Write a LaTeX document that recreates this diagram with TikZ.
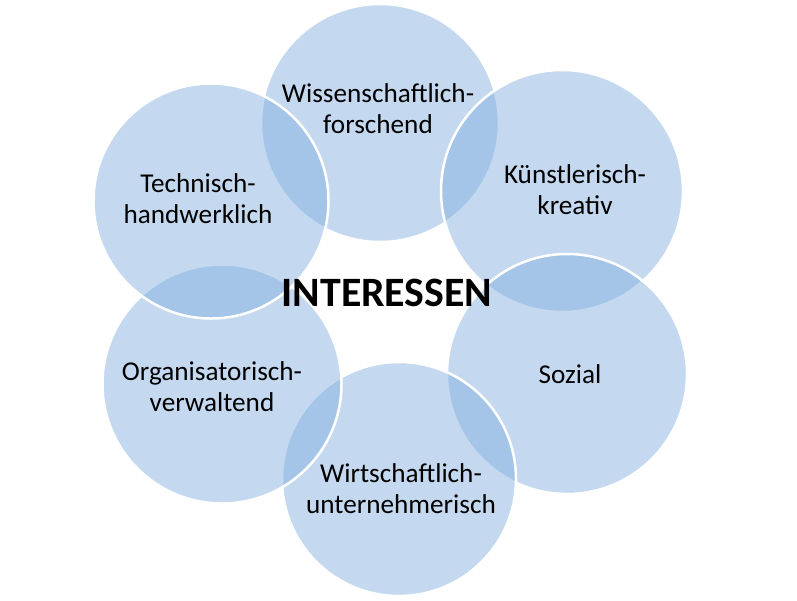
\documentclass[tikz,border=0pt]{standalone}
\usepackage{fontspec}
\setmainfont{Carlito}
\definecolor{circblue}{RGB}{130,175,223}
\begin{document}
\begin{tikzpicture}[x=1pt,y=-1pt,
  bubble/.style={fill=circblue,fill opacity=0.47,draw=white,line width=2.5pt},
  lbl/.style={align=center,text=black,font=\fontsize{27.2}{31}\selectfont},
  title/.style={text=black,font=\fontsize{41.8}{48}\selectfont\bfseries}]
\useasboundingbox (0,0) rectangle (797,600);
\fill[white] (0,0) rectangle (797,600);
\path[bubble] (380,123) circle[radius=119];
\path[bubble] (562,191) circle[radius=121];
\path[bubble] (567,374) circle[radius=120];
\path[bubble] (399,479) circle[radius=117];
\path[bubble] (222,384) circle[radius=119.5];
\path[bubble] (211,201) circle[radius=117.5];
\node[lbl] (w) at (378,109) {Wissenschaftlich-\\forschend};
\node[lbl] (k) at (575,190) {Künstlerisch-\\kreativ};
\node[lbl] (s) at (570,374) {Sozial};
\node[lbl] (wi) at (401,489) {Wirtschaftlich-\\unternehmerisch};
\node[lbl] (o) at (212,387) {Organisatorisch-\\verwaltend};
\node[lbl] (t) at (198,199) {Technisch-\\handwerklich};
\node[title] (c) at (387,293) {INTERESSEN};
\end{tikzpicture}
\end{document}
